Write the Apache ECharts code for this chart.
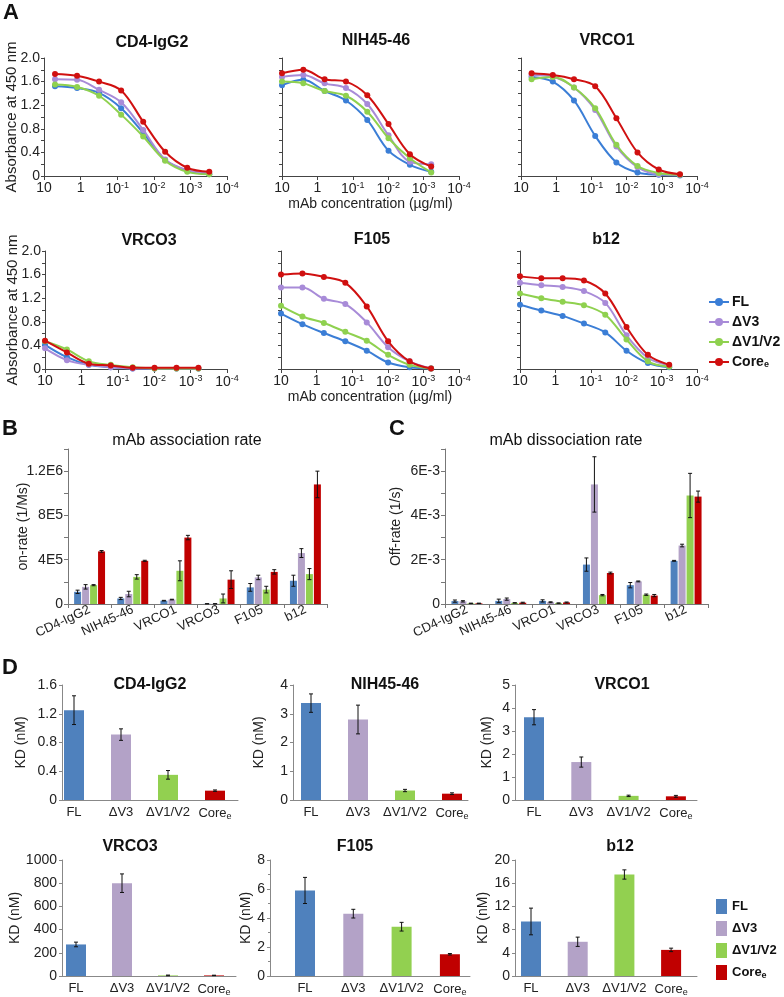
<!DOCTYPE html>
<html>
<head>
<meta charset="utf-8">
<script src="https://cdn.jsdelivr.net/npm/echarts@6/dist/echarts.min.js"></script>
<style>
  html, body { margin: 0; padding: 0; background: #fff; }
  #main { width: 784px; height: 997px; }
</style>
</head>
<body>
<div id="main"></div>
<script>
// variants of the envelope
var variants = ['FL', 'ΔV3', 'ΔV1/V2', 'Coree'];
var lineColors = ['#3b7ed6', '#a88bd8', '#8fd14f', '#d01010'];
var barColors = ['#4f81bd', '#b3a2c7', '#92d050', '#c00000'];
var mAbs = ['CD4-IgG2', 'NIH45-46', 'VRCO1', 'VRCO3', 'F105', 'b12'];

// A: ELISA, 4-fold dilutions (ug/ml)
var concFrom5 = [5, 1.25, 0.3125, 0.078, 0.0195, 0.0049, 0.00122, 0.000305];
var concFrom10 = [10, 2.5, 0.625, 0.156, 0.039, 0.0098, 0.00244, 0.00061];
// rows: FL, dV3, dV1/V2, Coree
var absCD4 = [
  [1.52, 1.49, 1.41, 1.15, 0.73, 0.27, 0.09, 0.03],
  [1.64, 1.63, 1.46, 1.25, 0.78, 0.28, 0.10, 0.05],
  [1.55, 1.51, 1.36, 1.04, 0.67, 0.26, 0.07, 0.03],
  [1.73, 1.70, 1.60, 1.45, 0.92, 0.41, 0.14, 0.07]
];
var absNIH = [
  [1.54, 1.63, 1.44, 1.28, 0.95, 0.43, 0.19, 0.07],
  [1.68, 1.71, 1.57, 1.49, 1.22, 0.69, 0.24, 0.20],
  [1.60, 1.57, 1.44, 1.36, 1.09, 0.64, 0.30, 0.06],
  [1.74, 1.80, 1.64, 1.60, 1.37, 0.88, 0.37, 0.16]
];
var absVRC01 = [
  [1.68, 1.60, 1.28, 0.68, 0.23, 0.06, 0.02, 0.01],
  [1.71, 1.68, 1.50, 1.12, 0.50, 0.15, 0.03, 0.02],
  [1.64, 1.68, 1.50, 1.15, 0.53, 0.17, 0.05, 0.02],
  [1.74, 1.71, 1.64, 1.52, 0.98, 0.40, 0.11, 0.03]
];
var absVRC03 = [
  [0.41, 0.20, 0.07, 0.03, 0.01, 0.01, 0.01, 0.01],
  [0.35, 0.15, 0.07, 0.03, 0.01, 0.01, 0.01, 0.01],
  [0.47, 0.33, 0.13, 0.07, 0.03, 0.01, 0.01, 0.01],
  [0.48, 0.28, 0.09, 0.06, 0.02, 0.02, 0.02, 0.02]
];
var absF105 = [
  [0.94, 0.76, 0.61, 0.47, 0.31, 0.11, 0.03, 0.01],
  [1.38, 1.38, 1.19, 1.10, 0.79, 0.37, 0.13, 0.01],
  [1.07, 0.89, 0.78, 0.63, 0.48, 0.24, 0.07, 0.01],
  [1.60, 1.62, 1.56, 1.46, 1.06, 0.47, 0.13, 0.01]
];
var absB12 = [
  [1.09, 0.99, 0.90, 0.77, 0.62, 0.31, 0.10, 0.03],
  [1.46, 1.42, 1.39, 1.32, 1.12, 0.57, 0.19, 0.06],
  [1.28, 1.20, 1.14, 1.08, 0.92, 0.50, 0.13, 0.04],
  [1.57, 1.54, 1.54, 1.50, 1.28, 0.71, 0.24, 0.07]
];

// B: on-rate (1/Ms), one row per variant, columns follow mAbs
var onRate = [
  [1.1e5, 0.5e5, 0.3e5, 0.02e5, 1.5e5, 2.1e5],
  [1.55e5, 0.9e5, 0.4e5, 0.02e5, 2.4e5, 4.6e5],
  [1.7e5, 2.45e5, 3.0e5, 0.5e5, 1.3e5, 2.7e5],
  [4.75e5, 3.9e5, 6.0e5, 2.2e5, 2.9e5, 10.8e5]
];
var onRateErr = [
  [0.15e5, 0.1e5, 0.03e5, 0.01e5, 0.35e5, 0.5e5],
  [0.2e5, 0.25e5, 0.03e5, 0.01e5, 0.2e5, 0.4e5],
  [0.05e5, 0.2e5, 0.9e5, 0.4e5, 0.3e5, 0.5e5],
  [0.08e5, 0.05e5, 0.2e5, 0.8e5, 0.2e5, 1.2e5]
];
// C: off-rate (1/s)
var offRate = [
  [0.13e-3, 0.14e-3, 0.14e-3, 1.78e-3, 0.85e-3, 1.95e-3],
  [0.12e-3, 0.22e-3, 0.08e-3, 5.4e-3, 1.02e-3, 2.64e-3],
  [0.03e-3, 0.05e-3, 0.04e-3, 0.4e-3, 0.42e-3, 4.9e-3],
  [0.03e-3, 0.06e-3, 0.07e-3, 1.4e-3, 0.38e-3, 4.85e-3]
];
var offRateErr = [
  [0.05e-3, 0.08e-3, 0.05e-3, 0.3e-3, 0.12e-3, 0.02e-3],
  [0.03e-3, 0.05e-3, 0.02e-3, 1.25e-3, 0.02e-3, 0.06e-3],
  [0.01e-3, 0.01e-3, 0.01e-3, 0.03e-3, 0.03e-3, 1.0e-3],
  [0.01e-3, 0.02e-3, 0.02e-3, 0.04e-3, 0.05e-3, 0.25e-3]
];

// D: KD (nM), columns follow variants
var kdCD4 = [1.25, 0.91, 0.35, 0.13];      var kdCD4Err = [0.2, 0.08, 0.06, 0.01];
var kdNIH = [3.37, 2.8, 0.33, 0.22];       var kdNIHErr = [0.32, 0.5, 0.04, 0.03];
var kdVRC01 = [3.6, 1.65, 0.18, 0.16];     var kdVRC01Err = [0.33, 0.22, 0.03, 0.04];
var kdVRC03 = [272, 800, 5, 5];            var kdVRC03Err = [20, 80, 3, 2];
var kdF105 = [5.9, 4.3, 3.4, 1.5];         var kdF105Err = [0.9, 0.3, 0.3, 0.05];
var kdB12 = [9.4, 5.9, 17.5, 4.5];         var kdB12Err = [2.3, 0.8, 0.8, 0.3];

var FONT = '"Liberation Sans", Arial, sans-serif';

function variantLabel(name) { return name === 'Coree' ? 'Core{sub|e}' : name; }

var chart = echarts.init(document.getElementById('main'));
var grids = [], xAxes = [], yAxes = [], series = [], titles = [];

function addTitle(text, x, y, size, weight) {
  titles.push({ text: text, left: x, top: y, textAlign: 'center', padding: 0,
    textStyle: { fontSize: size, fontWeight: weight, fontFamily: FONT, color: '#111' } });
}

// panel letters
[['A', 3, 2], ['B', 2, 418], ['C', 389, 418], ['D', 2, 657]].forEach(function (p) {
  titles.push({ text: p[0], left: p[1], top: p[2], padding: 0,
    textStyle: { fontSize: 22, fontWeight: 'bold', fontFamily: FONT, color: '#111' } });
});

// ---- A ----
var elisaSets = [
  { title: 'CD4-IgG2', conc: concFrom5, vals: absCD4 },
  { title: 'NIH45-46', conc: concFrom10, vals: absNIH },
  { title: 'VRCO1', conc: concFrom5, vals: absVRC01 },
  { title: 'VRCO3', conc: concFrom10, vals: absVRC03 },
  { title: 'F105', conc: concFrom10, vals: absF105 },
  { title: 'b12', conc: concFrom10, vals: absB12 }
];
var aLayout = [
  { left: 44, top: 58, width: 183, tx: 152, ty: 35, ylab: true },
  { left: 282, top: 58, width: 177, tx: 376, ty: 33, xname: true },
  { left: 521, top: 58, width: 176, tx: 607, ty: 33 },
  { left: 45, top: 251, width: 182, tx: 149, ty: 233, ylab: true },
  { left: 281, top: 251, width: 178, tx: 372, ty: 232, xname: true },
  { left: 520, top: 251, width: 177, tx: 606, ty: 232 }
];

function powLabel(v) {
  var e = Math.round(Math.log(v) / Math.LN10);
  if (e === 1) return '10';
  if (e === 0) return '1';
  return '10{sup|' + e + '}';
}

elisaSets.forEach(function (set, i) {
  var L = aLayout[i];
  var gi = grids.length;
  grids.push({ left: L.left, top: L.top, width: L.width, height: 118 });
  xAxes.push({
    type: 'log', gridIndex: gi, logBase: 10, min: 0.0001, max: 10, inverse: true,
    axisLine: { lineStyle: { color: '#444', width: 1 } },
    axisTick: { show: true, length: 4, lineStyle: { color: '#444' } },
    splitLine: { show: false }, minorTick: { show: false },
    axisLabel: { formatter: powLabel, fontSize: 14, fontFamily: FONT, color: '#222', margin: 5,
      rich: { sup: { fontSize: 9, padding: [0, 0, 7, 0], fontFamily: FONT, color: '#222' } } },
    name: L.xname ? 'mAb concentration (µg/ml)' : '', nameLocation: 'middle', nameGap: 21,
    nameTextStyle: { fontSize: 14, fontFamily: FONT, color: '#222' }
  });
  yAxes.push({
    type: 'value', gridIndex: gi, min: 0, max: 2, interval: 0.2,
    axisLine: { show: true, onZero: false, lineStyle: { color: '#444', width: 1 } },
    axisTick: { show: true, length: 3, lineStyle: { color: '#444' } },
    splitLine: { show: false },
    axisLabel: { show: !!L.ylab, fontSize: 14, fontFamily: FONT, color: '#222', margin: 4,
      formatter: function (v) {
        var k = Math.round(v * 10);
        if (k % 4 !== 0) return '';
        return k === 0 ? '0' : (k / 10).toFixed(1);
      } },
    name: L.ylab ? 'Absorbance at 450 nm' : '', nameLocation: 'middle', nameGap: 25,
    nameMoveOverlap: false,
    nameTextStyle: { fontSize: 15, fontFamily: FONT, color: '#222' }
  });
  addTitle(set.title, L.tx, L.ty, 16, 'bold');
  set.vals.forEach(function (vals, k) {
    series.push({
      type: 'line', name: variants[k], xAxisIndex: gi, yAxisIndex: gi,
      data: set.conc.map(function (c, j) { return [c, vals[j]]; }),
      smooth: 0.35, symbol: 'circle', symbolSize: 6,
      lineStyle: { width: 2, color: lineColors[k] },
      itemStyle: { color: lineColors[k] },
      z: 2 + k
    });
  });
});

// ---- error bars ----
function errorBars(gi, means, errs, offset, capHalf) {
  return {
    type: 'custom', xAxisIndex: gi, yAxisIndex: gi, silent: true, z: 10,
    encode: { x: 0, y: [1, 2] },
    data: means.map(function (m, j) { return [j, Math.max(0, m - errs[j]), m + errs[j]]; }),
    renderItem: function (params, api) {
      var lo = api.coord([api.value(0), api.value(1)]);
      var hi = api.coord([api.value(0), api.value(2)]);
      var x = lo[0] + offset;
      var st = { stroke: '#111', lineWidth: 1 };
      return { type: 'group', children: [
        { type: 'line', shape: { x1: x, y1: lo[1], x2: x, y2: hi[1] }, style: st },
        { type: 'line', shape: { x1: x - capHalf, y1: lo[1], x2: x + capHalf, y2: lo[1] }, style: st },
        { type: 'line', shape: { x1: x - capHalf, y1: hi[1], x2: x + capHalf, y2: hi[1] }, style: st }
      ] };
    }
  };
}

// ---- B and C ----
var rateLabels = {
  on: function (v) { return ({ 0: '0', 400000: '4E5', 800000: '8E5', 1200000: '1.2E6' })[Math.round(v)] || ''; },
  off: function (v) { return ({ 0: '0', 20: '2E-3', 40: '4E-3', 60: '6E-3' })[Math.round(v * 1e4)] || ''; }
};
var rateSets = [
  { title: 'mAb association rate', tx: 187, left: 68, width: 259, max: 1.4e6, interval: 2e5,
    fmt: rateLabels.on, name: 'on-rate (1/Ms)', gap: 38, vals: onRate, errs: onRateErr },
  { title: 'mAb dissociation rate', tx: 566, left: 445, width: 263, max: 7e-3, interval: 1e-3,
    fmt: rateLabels.off, name: 'Off-rate (1/s)', gap: 42, vals: offRate, errs: offRateErr }
];
var BW = 7, BGAP = 1;
rateSets.forEach(function (set) {
  var gi = grids.length;
  grids.push({ left: set.left, top: 449, width: set.width, height: 155 });
  xAxes.push({
    type: 'category', gridIndex: gi, data: mAbs,
    axisLine: { lineStyle: { color: '#777' } },
    axisTick: { show: true, length: 4, lineStyle: { color: '#777' } },
    axisLabel: { interval: 0, rotate: 25, fontSize: 13, fontFamily: FONT, color: '#222', margin: 5 }
  });
  yAxes.push({
    type: 'value', gridIndex: gi, min: 0, max: set.max, interval: set.interval,
    axisLine: { show: true, onZero: false, lineStyle: { color: '#777' } },
    axisTick: { show: true, length: 4, lineStyle: { color: '#777' } },
    splitLine: { show: false },
    axisLabel: { formatter: set.fmt, fontSize: 14, fontFamily: FONT, color: '#222', margin: 5 },
    name: set.name, nameLocation: 'middle', nameGap: set.gap, nameMoveOverlap: false,
    nameTextStyle: { fontSize: 14, fontFamily: FONT, color: '#222' }
  });
  addTitle(set.title, set.tx, 433, 16, 'normal');
  set.vals.forEach(function (vals, k) {
    series.push({
      type: 'bar', name: variants[k], xAxisIndex: gi, yAxisIndex: gi, data: vals,
      barWidth: BW, barGap: Math.round(BGAP / BW * 100) + '%',
      itemStyle: { color: barColors[k] }
    });
  });
  set.vals.forEach(function (vals, k) {
    var off = (k - 1.5) * (BW + BGAP);
    series.push(errorBars(gi, vals, set.errs[k], off, 2));
  });
});

// ---- D ----
var kdSets = [
  { title: 'CD4-IgG2', vals: kdCD4, errs: kdCD4Err, max: 1.6, interval: 0.4 },
  { title: 'NIH45-46', vals: kdNIH, errs: kdNIHErr, max: 4, interval: 1 },
  { title: 'VRCO1', vals: kdVRC01, errs: kdVRC01Err, max: 5, interval: 1 },
  { title: 'VRCO3', vals: kdVRC03, errs: kdVRC03Err, max: 1000, interval: 200 },
  { title: 'F105', vals: kdF105, errs: kdF105Err, max: 8, interval: 2, minor: true },
  { title: 'b12', vals: kdB12, errs: kdB12Err, max: 20, interval: 4 }
];
var dLayout = [
  { axisX: 62, axisEnd: 238, first: 74, step: 47, top: 685, height: 115, tx: 150, ty: 677, gap: 34 },
  { axisX: 293, axisEnd: 468, first: 311, step: 47, top: 685, height: 115, tx: 385, ty: 677, gap: 27 },
  { axisX: 515, axisEnd: 697, first: 534, step: 47.3, top: 685, height: 115, tx: 622, ty: 677, gap: 21 },
  { axisX: 62, axisEnd: 236, first: 76, step: 46, top: 860, height: 116, tx: 130, ty: 839, gap: 38 },
  { axisX: 270, axisEnd: 470, first: 305, step: 48.3, top: 860, height: 116, tx: 355, ty: 839, gap: 16 },
  { axisX: 515, axisEnd: 697, first: 531, step: 46.7, top: 860, height: 116, tx: 620, ty: 839, gap: 23 }
];
kdSets.forEach(function (set, i) {
  var L = dLayout[i];
  var gi = grids.length;
  var xmin = -(L.first - L.axisX) / L.step;
  var xmax = xmin + (L.axisEnd - L.axisX) / L.step;
  grids.push({ left: L.axisX, top: L.top, width: L.axisEnd - L.axisX, height: L.height });
  xAxes.push({
    type: 'value', gridIndex: gi, min: xmin, max: xmax,
    axisLine: { show: true, onZero: false, lineStyle: { color: '#888' } },
    axisTick: { show: false }, splitLine: { show: false },
    axisLabel: { customValues: [0, 1, 2, 3], fontSize: 13, fontFamily: FONT, color: '#222', margin: 6,
      formatter: function (v) { return variantLabel(variants[Math.round(v)]); },
      rich: { sub: { fontSize: 9, padding: [6, 0, 0, 0], fontFamily: FONT, color: '#222' } } }
  });
  yAxes.push({
    type: 'value', gridIndex: gi, min: 0, max: set.max, interval: set.interval,
    axisLine: { show: true, onZero: false, lineStyle: { color: '#888' } },
    axisTick: { show: true, length: 3, lineStyle: { color: '#888' } },
    minorTick: { show: !!set.minor, splitNumber: 2, length: 2, lineStyle: { color: '#888' } },
    splitLine: { show: false },
    axisLabel: { fontSize: 14, fontFamily: FONT, color: '#222', margin: 5,
      formatter: function (v) { return String(v); } },
    name: 'KD (nM)', nameLocation: 'middle', nameGap: L.gap,
    nameTextStyle: { fontSize: 14, fontFamily: FONT, color: '#222' }
  });
  addTitle(set.title, L.tx, L.ty, 16, 'bold');
  series.push({
    type: 'bar', xAxisIndex: gi, yAxisIndex: gi, barWidth: 20,
    data: set.vals.map(function (v, j) { return { value: [j, v], itemStyle: { color: barColors[j] } }; })
  });
  series.push(errorBars(gi, set.vals, set.errs, 0, 2));
});

var option = {
  backgroundColor: '#fff',
  animation: false,
  textStyle: { fontFamily: FONT },
  title: titles,
  grid: grids,
  xAxis: xAxes,
  yAxis: yAxes,
  legend: [
    {
      orient: 'vertical', left: 708, top: 295, padding: 0, itemGap: 6,
      itemWidth: 20, itemHeight: 10, selectedMode: false,
      data: variants,
      formatter: variantLabel,
      textStyle: { fontSize: 14, fontWeight: 'bold', fontFamily: FONT, color: '#111', padding: [0, 0, 0, -2],
        rich: { sub: { fontSize: 9, fontWeight: 'bold', padding: [6, 0, 0, 0], fontFamily: FONT, color: '#111' } } }
    },
    {
      orient: 'vertical', left: 716, top: 899, padding: 0, itemGap: 7,
      itemWidth: 11, itemHeight: 15, selectedMode: false,
      data: variants.map(function (n, k) {
        return { name: n, icon: 'rect', itemStyle: { color: barColors[k], borderWidth: 0 } };
      }),
      formatter: variantLabel,
      textStyle: { fontSize: 13, fontWeight: 'bold', fontFamily: FONT, color: '#111',
        rich: { sub: { fontSize: 9, fontWeight: 'bold', padding: [6, 0, 0, 0], fontFamily: FONT, color: '#111' } } }
    }
  ],
  series: series
};
chart.setOption(option);
</script>
</body>
</html>
